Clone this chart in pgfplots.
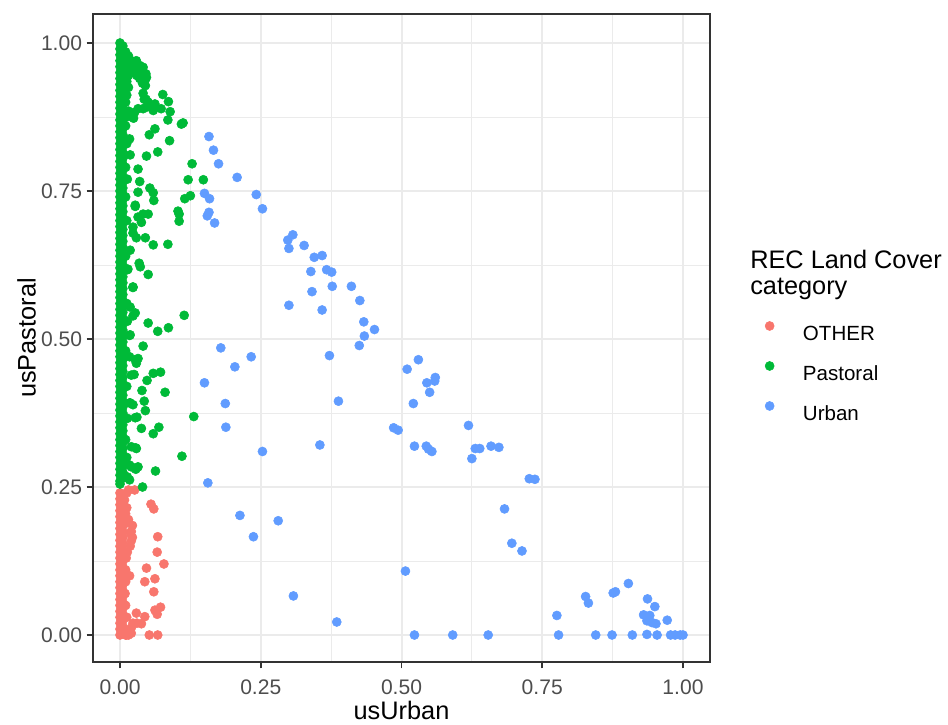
\documentclass[border=0pt]{standalone}
\usepackage{pgfplots}
\pgfplotsset{compat=1.18}
\usepackage{fontspec}
\setmainfont{Liberation Sans}
\definecolor{cOther}{HTML}{F8766D}
\definecolor{cPast}{HTML}{00BA38}
\definecolor{cUrban}{HTML}{619CFF}
\definecolor{grey92}{HTML}{EBEBEB}
\definecolor{grey20}{HTML}{333333}
\definecolor{grey30}{HTML}{4D4D4D}
\begin{document}
\begin{tikzpicture}
\begin{axis}[
  scale only axis, width=462.75pt, height=486pt,
  xmin=-0.048, xmax=1.048, ymin=-0.0456, ymax=1.049,
  clip mode=individual,
  xtick={0,0.25,0.5,0.75,1}, ytick={0,0.25,0.5,0.75,1},
  minor xtick={0.125,0.375,0.625,0.875}, minor ytick={0.125,0.375,0.625,0.875},
  grid=both,
  major grid style={color=grey92, line width=1.5pt},
  minor grid style={color=grey92, line width=0.75pt},
  axis line style={color=grey20, line width=1.4pt},
  tick align=outside, tick pos=left,
  major tick length=4.7pt, minor tick length=0pt,
  major tick style={color=grey20, line width=1.4pt},
  /pgf/number format/assume math mode=true,
  /pgf/number format/.cd, fixed, fixed zerofill, precision=2, /pgfplots/.cd,
  ticklabel style={font=\fontsize{15.8}{18}\selectfont, color=grey30},
  xticklabel style={yshift=-5pt},
  xlabel={usUrban}, ylabel={usPastoral},
  label style={font=\fontsize{19}{22}\selectfont, color=black},
  xlabel style={at={(axis description cs:0.5,-0.0895)}, anchor=base},
  ylabel style={at={(axis description cs:-0.093,0.5)}, anchor=base, rotate=0},
  legend cell align=left,
  legend image code/.code={\draw[#1] plot coordinates {(0pt,5.5pt)};},
  legend style={draw=none, fill=none, inner sep=0pt,
    at={(axis description cs:1.0889,0.449)}, anchor=west,
    font=\fontsize{15.4}{18}\selectfont,
    nodes={inner sep=0pt, text height=11pt, text depth=0pt},
    row sep=15.6pt,
    /tikz/every odd column/.append style={column sep=21.6pt}},
]
\addplot[only marks, mark=*, mark size=3.4pt, color=cOther, mark options={draw=none}] coordinates {
(0,0)(0,.01)(0,.02)(0,.03)(0,.04)(0,.05)(0,.06)(0,.07)(0,.08)(0,.09)(0,.10)(0,.11)(0,.12)(0,.13)(0,.14)(0,.15)(0,.16)(0,.17)(0,.18)(0,.19)(0,.20)(0,.21)(0,.22)(0,.23)(0,.24)
(.005,.005)(.005,.015)(.005,.025)(.005,.035)(.005,.045)(.005,.055)(.005,.065)(.005,.075)(.005,.085)(.005,.095)(.005,.105)(.005,.115)(.005,.125)(.005,.135)(.005,.145)(.005,.155)(.005,.165)(.005,.175)(.005,.185)(.005,.195)(.005,.205)(.005,.215)(.005,.225)(.005,.235)
(.01,0)(.015,0)(.02,.003)(.012,.008)(.02,.012)(.03,.02)(.012,.03)(.01,.05)(.009,.07)(.01,.09)(.01,.11)(.013,.14)(.018,.15)(.022,.165)(.018,.172)(.022,.185)(.015,.195)(.01,.205)(.012,.215)(.008,.228)(.012,.24)(.015,.245)
(.026,.245)(.055,.221)(.060,.213)(.011,.189)(.020,.175)(.020,.159)(.067,.166)(.066,.140)(.078,.120)(.011,.130)(.047,.113)(.017,.100)(.062,.095)(.044,.090)(.060,.073)(.072,.047)(.062,.042)(.066,.035)(.029,.037)(.044,.031)(.038,.019)(.023,.020)(.052,0)(.067,0)(.011,0)
};
\addlegendentry{OTHER}
\addplot[only marks, mark=*, mark size=3.4pt, color=cPast, mark options={draw=none}] coordinates {
(0,.255)(0,.26)(0,.27)(0,.28)(0,.29)(0,.30)(0,.31)(0,.32)(0,.33)(0,.34)(0,.35)(0,.36)(0,.37)(0,.38)(0,.39)(0,.40)(0,.41)(0,.42)(0,.43)(0,.44)(0,.45)(0,.46)(0,.47)(0,.48)(0,.49)(0,.50)(0,.51)(0,.52)(0,.53)(0,.54)(0,.55)(0,.56)(0,.57)(0,.58)(0,.59)(0,.60)(0,.61)(0,.62)(0,.63)(0,.64)(0,.65)(0,.66)(0,.67)(0,.68)(0,.69)(0,.70)(0,.71)(0,.72)(0,.73)(0,.74)(0,.75)(0,.76)(0,.77)(0,.78)(0,.79)(0,.80)(0,.81)(0,.82)(0,.83)(0,.84)(0,.85)(0,.86)(0,.87)(0,.88)(0,.89)(0,.90)(0,.91)(0,.92)(0,.93)(0,.94)(0,.95)(0,.96)(0,.97)(0,.98)(0,.99)(0,1.00)
(.005,.265)(.005,.275)(.005,.285)(.005,.295)(.005,.305)(.005,.315)(.005,.325)(.005,.335)(.005,.345)(.005,.355)(.005,.365)(.005,.375)(.005,.385)(.005,.395)(.005,.405)(.005,.415)(.005,.425)(.005,.435)(.005,.445)(.005,.455)(.005,.465)(.005,.475)(.005,.485)(.005,.495)(.005,.505)(.005,.515)(.005,.525)(.005,.535)(.005,.545)(.005,.555)(.005,.565)(.005,.575)(.005,.585)(.005,.595)(.005,.605)(.005,.615)(.005,.625)(.005,.635)(.005,.645)(.005,.655)(.005,.665)(.005,.675)(.005,.685)(.005,.695)(.005,.705)(.005,.715)(.005,.725)(.005,.735)(.005,.745)(.005,.755)(.005,.765)(.005,.775)(.005,.785)(.005,.795)(.005,.805)(.005,.815)(.005,.825)(.005,.835)(.005,.845)(.005,.855)(.005,.865)(.005,.875)(.005,.885)(.005,.895)(.005,.905)(.005,.915)(.005,.925)(.005,.935)(.005,.945)(.005,.955)(.005,.965)(.005,.975)(.005,.985)(.005,.995)
(.018,.811)(.027,.726)(.032,.706)(.023,.679)(.018,.65)(.023,.588)(.013,.617)(.027,.544)(.012,.56)(.018,.507)(.027,.465)(.02,.439)(.018,.392)(.027,.367)(.013,.366)(.02,.318)(.028,.316)(.02,.284)(.032,.284)(.013,.267)
(.012,.30)(.01,.33)(.012,.42)(.01,.48)(.013,.53)(.01,.64)(.012,.70)(.01,.74)(.013,.77)(.01,.79)(.012,.83)(.01,.86)(.012,.875)
(.010,.985)(.015,.978)(.020,.970)(.025,.962)(.030,.957)(.035,.950)(.040,.945)(.045,.938)(.046,.948)(.045,.928)(.040,.932)(.035,.940)(.030,.945)(.025,.950)(.020,.955)(.015,.962)(.010,.970)(.015,.945)(.010,.950)(.012,.935)(.015,.925)(.012,.912)(.010,.900)(.035,.962)(.043,.905)(.046,.905)(.050,.900)(.048,.892)(.032,.889)(.015,.885)
(.041,.959)(.047,.942)(.029,.970)(.076,.913)(.086,.901)(.041,.915)(.062,.897)(.073,.889)(.089,.884)(.041,.889)(.026,.883)(.059,.886)(.024,.873)(.085,.870)(.109,.863)(.112,.865)(.062,.855)(.052,.845)(.088,.835)(.017,.838)(.067,.816)(.047,.809)(.128,.796)(.032,.787)(.121,.769)(.148,.769)(.035,.766)(.053,.755)(.059,.747)(.060,.734)(.032,.748)(.115,.737)(.125,.742)(.027,.724)(.103,.716)(.105,.711)(.105,.699)(.041,.711)(.050,.711)(.038,.697)(.023,.689)(.029,.671)(.045,.671)(.059,.659)(.085,.660)(.034,.628)(.036,.622)(.050,.609)(.014,.618)(.023,.587)(.018,.554)(.023,.539)(.114,.540)(.050,.527)(.067,.513)(.086,.519)(.017,.506)(.041,.488)(.032,.467)(.029,.459)(.017,.470)(.025,.440)(.059,.442)(.072,.444)(.048,.430)(.039,.413)(.080,.410)(.043,.395)(.017,.392)(.023,.389)(.045,.379)(.030,.368)(.131,.369)(.038,.349)(.069,.351)(.059,.340)(.029,.315)(.110,.302)(.017,.287)(.028,.280)(.063,.277)(.017,.262)(.040,.250)
};
\addlegendentry{Pastoral}
\addplot[only marks, mark=*, mark size=3.4pt, color=cUrban, mark options={draw=none}] coordinates {
(0.158,0.842)(0.166,0.819)(0.175,0.796)(0.208,0.773)(0.150,0.746)(0.159,0.737)(0.242,0.744)(0.253,0.720)(0.158,0.714)(0.155,0.708)(0.168,0.696)(0.307,0.676)(0.298,0.667)(0.300,0.653)(0.327,0.658)(0.345,0.638)(0.359,0.641)(0.339,0.614)(0.367,0.617)(0.376,0.613)(0.377,0.589)(0.341,0.580)(0.411,0.589)(0.426,0.565)(0.359,0.549)(0.300,0.557)(0.433,0.529)(0.452,0.516)(0.434,0.505)(0.425,0.489)(0.179,0.485)(0.233,0.470)(0.204,0.453)(0.372,0.472)(0.530,0.465)(0.510,0.449)(0.150,0.426)(0.187,0.391)(0.388,0.395)(0.560,0.435)(0.559,0.429)(0.545,0.426)(0.550,0.410)(0.521,0.391)(0.188,0.351)(0.486,0.350)(0.494,0.346)(0.355,0.321)(0.253,0.310)(0.523,0.319)(0.544,0.319)(0.548,0.314)(0.554,0.310)(0.156,0.257)(0.213,0.202)(0.281,0.193)(0.237,0.166)(0.507,0.108)(0.308,0.066)(0.385,0.022)(0.523,0.000)(0.591,0.000)(0.619,0.354)(0.625,0.298)(0.631,0.315)(0.639,0.315)(0.659,0.319)(0.673,0.317)(0.727,0.264)(0.737,0.263)(0.683,0.213)(0.696,0.155)(0.714,0.142)(0.654,0.000)(0.776,0.033)(0.779,0.000)(0.827,0.065)(0.832,0.054)(0.845,0.000)(0.874,0.000)(0.876,0.071)(0.880,0.073)(0.903,0.087)(0.910,0.000)(0.937,0.061)(0.950,0.048)(0.930,0.034)(0.941,0.033)(0.936,0.024)(0.945,0.021)(0.952,0.019)(0.972,0.025)(0.936,0.001)(0.954,0.000)(0.978,0.000)(0.986,0.000)(0.995,0.000)(1.000,0.000)
};
\addlegendentry{Urban}
\node[anchor=base west, font=\fontsize{19}{22}\selectfont, inner sep=0pt] at (axis description cs:1.0648,0.608) {REC Land Cover};
\node[anchor=base west, font=\fontsize{19}{22}\selectfont, inner sep=0pt] at (axis description cs:1.0648,0.5664) {category};
\end{axis}
\pgfresetboundingbox
\useasboundingbox ([shift={(-69.75pt,-46.5pt)}]current axis.south west) rectangle ++(711pt,543pt);
\end{tikzpicture}
\end{document}
